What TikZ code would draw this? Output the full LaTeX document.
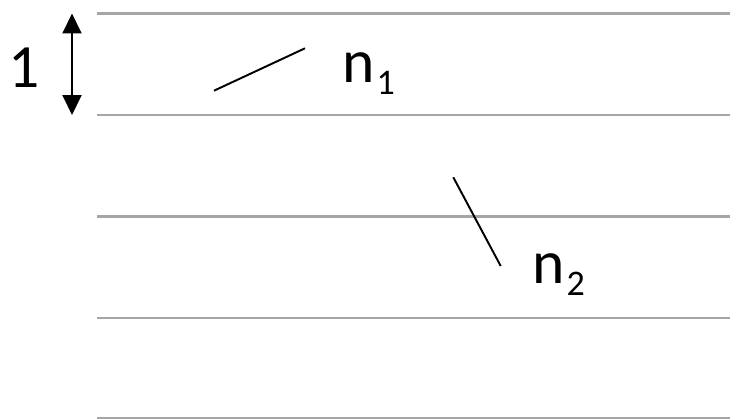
\documentclass[tikz,border=0pt]{standalone}
\usepackage{fontspec}
\setmainfont{Carlito}
\usetikzlibrary{arrows.meta}

\newcommand{\idx}[1]{\kern0.03em\raisebox{-0.21em}{\fontsize{20.5}{20.5}\selectfont #1}}

\begin{document}
\begin{tikzpicture}[
    x=0.02cm, y=-0.02cm,
    font=\fontsize{35}{42}\selectfont,
    lapisan/.style={draw=black!35, line width=1.4pt},
    jarum/.style={black, line width=1.1pt},
    panah/.style={{Triangle[length=0.4cm,width=0.38cm]}-{Triangle[length=0.4cm,width=0.38cm]}, line width=1.1pt},
    label/.style={inner sep=0pt, anchor=base west}
  ]
    \useasboundingbox (0,0) rectangle (730,419);
    % garis lapisan
    \foreach \y [count=\i] in {13.5,115,216.5,318,418.5} {
      \coordinate (kiri\i) at (97,\y);
      \coordinate (kanan\i) at (730,\y);
      \draw[lapisan] (kiri\i) -- (kanan\i);
    }
    % jarak satuan
    \coordinate (atas) at (72,13.5);
    \coordinate (bawah) at (72,115);
    \draw[panah] (atas) -- (bawah);
    \node[inner sep=0pt, anchor=base] (satu) at (24,87) {1};
    % jarum
    \coordinate (a1) at (214,90.7);
    \coordinate (b1) at (305,48.3);
    \draw[jarum] (a1) -- (b1);
    \node[label] (n1) at (342,82) {n\idx{1}};
    \coordinate (a2) at (453.3,177.3);
    \coordinate (b2) at (500.7,266);
    \draw[jarum] (a2) -- (b2);
    \node[label] (n2) at (532,283) {n\idx{2}};
  \end{tikzpicture}
\end{document}
